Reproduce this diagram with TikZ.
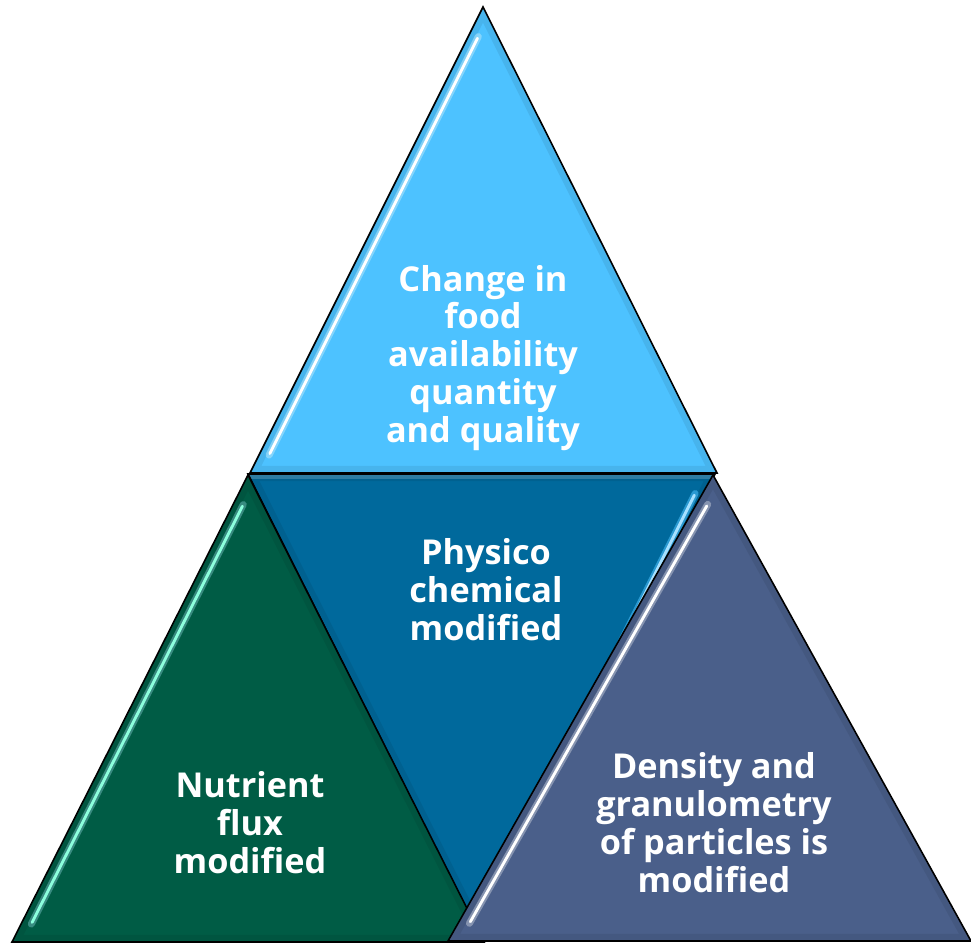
\documentclass[tikz,border=0pt]{standalone}
\usepackage{fontspec}
\setmainfont{Open Sans}
\usepackage{tikz}
\usetikzlibrary{calc}

\definecolor{skyblue}{HTML}{4DC2FF}
\definecolor{seablue}{HTML}{00699C}
\definecolor{deepgreen}{HTML}{005C45}
\definecolor{slate}{HTML}{4A5F8A}

\tikzset{
  tri/.style={draw=black, line width=0.9pt, line join=miter},
  rim/.style={line width=8pt, draw=black, opacity=0.07},
  glow/.style={line width=4pt, draw=#1, opacity=0.55, line cap=round, shorten <=6pt, shorten >=5pt},
  shine/.style={line width=1.6pt, draw=#1, line cap=round, shorten <=7pt, shorten >=6pt},
  lbl/.style={text=white, align=center, font=\bfseries\fontsize{19.5}{21.6}\selectfont}
}

\begin{document}
\begin{tikzpicture}[x=0.02cm,y=-0.02cm]
\useasboundingbox (0,0) rectangle (971,943);

% corners of the four triangles
\coordinate (a1) at (483,7);   \coordinate (a2) at (250,473); \coordinate (a3) at (717,473);
\coordinate (m1) at (248,474); \coordinate (m2) at (715,474); \coordinate (m3) at (482,940);
\coordinate (g1) at (248,475); \coordinate (g2) at (12,942);  \coordinate (g3) at (484,942);
\coordinate (s1) at (713,475); \coordinate (s2) at (448,941); \coordinate (s3) at (971,941);
\coordinate (ac) at (483,318); \coordinate (mc) at (482,630);
\coordinate (gc) at (248,786); \coordinate (sc) at (711,786);

% top: food availability
\fill[skyblue] (a1) -- (a2) -- (a3) -- cycle;
\begin{scope}
  \clip (a1) -- (a2) -- (a3) -- cycle;
  \draw[rim] (a1) -- (a2) -- (a3) -- cycle;
\end{scope}
\draw[glow=cyan!30!white] ($(a1)!.065!(ac)$) -- ($(a2)!.065!(ac)$);
\draw[shine=white] ($(a1)!.065!(ac)$) -- ($(a2)!.065!(ac)$);
\draw[tri] (a1) -- (a2) -- (a3) -- cycle;
\node[lbl] (food) at (483,358) {Change in\\food\\availability\\quantity\\and quality};

% middle: physico-chemical
\fill[seablue] (m1) -- (m2) -- (m3) -- cycle;
\begin{scope}
  \clip (m1) -- (m2) -- (m3) -- cycle;
  \draw[rim] (m1) -- (m2) -- (m3) -- cycle;
  \draw[line width=6pt, draw=white, opacity=0.18] (m1) -- (m2);
\end{scope}
\draw[glow=skyblue, shorten >=120pt] ($(m2)!.065!(mc)$) -- ($(m3)!.065!(mc)$);
\draw[shine=skyblue!50!white, shorten >=125pt] ($(m2)!.065!(mc)$) -- ($(m3)!.065!(mc)$);
\draw[tri] (m1) -- (m2) -- (m3) -- cycle;
\node[lbl] (phys) at (486,590) {Physico\\chemical\\modified};

% bottom left: nutrient flux
\fill[deepgreen] (g1) -- (g2) -- (g3) -- cycle;
\begin{scope}
  \clip (g1) -- (g2) -- (g3) -- cycle;
  \draw[rim] (g1) -- (g2) -- (g3) -- cycle;
\end{scope}
\draw[glow=teal!60!white] ($(g1)!.065!(gc)$) -- ($(g2)!.065!(gc)$);
\draw[shine=green!30!cyan!45!white] ($(g1)!.065!(gc)$) -- ($(g2)!.065!(gc)$);
\draw[tri] (g1) -- (g2) -- (g3) -- cycle;
\node[lbl] (flux) at (250,823) {Nutrient\\flux\\modified};

% bottom right: particles
\fill[slate] (s1) -- (s2) -- (s3) -- cycle;
\begin{scope}
  \clip (s1) -- (s2) -- (s3) -- cycle;
  \draw[rim] (s1) -- (s2) -- (s3) -- cycle;
\end{scope}
\draw[glow=slate!40!white] ($(s1)!.065!(sc)$) -- ($(s2)!.065!(sc)$);
\draw[shine=white] ($(s1)!.065!(sc)$) -- ($(s2)!.065!(sc)$);
\draw[tri] (s1) -- (s2) -- (s3) -- cycle;
\node[lbl] (part) at (714,823) {Density and\\granulometry\\of particles is\\modified};
\end{tikzpicture}
\end{document}
